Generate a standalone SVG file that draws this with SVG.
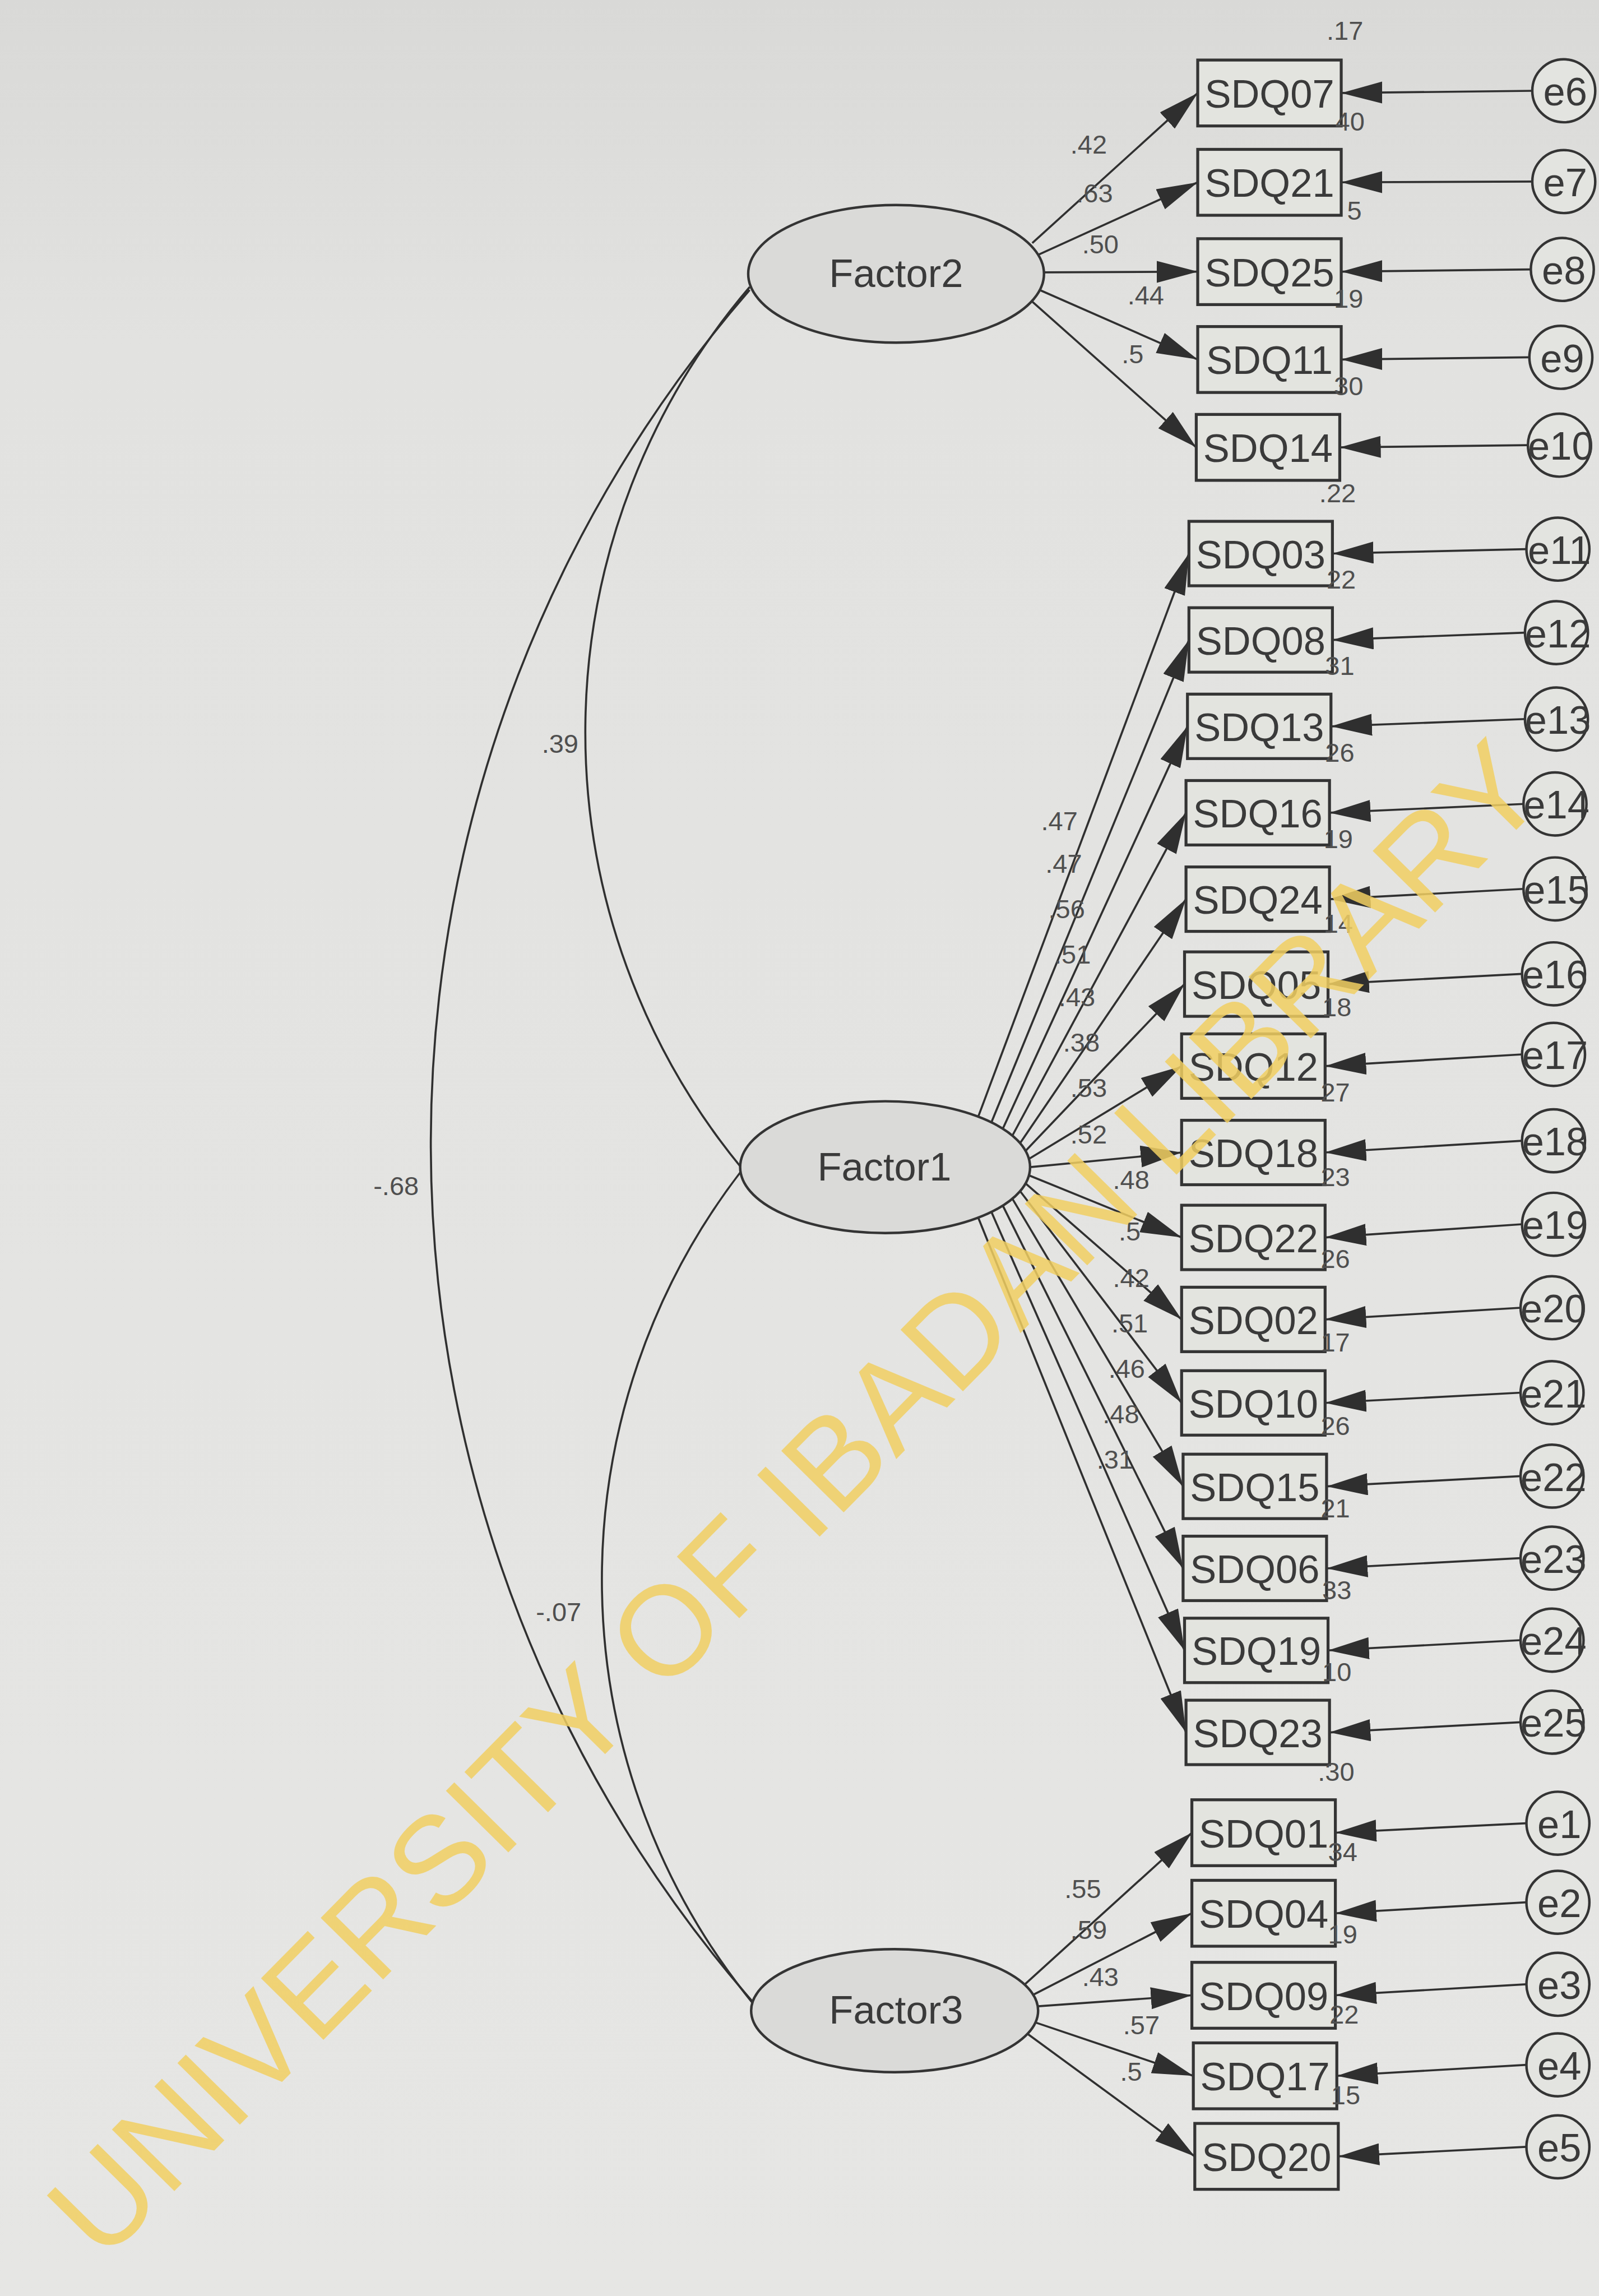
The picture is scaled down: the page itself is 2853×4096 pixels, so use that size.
<svg xmlns="http://www.w3.org/2000/svg" width="2853" height="4096" viewBox="0 0 2853 4096">
<defs>
<linearGradient id="bg" x1="0" y1="0" x2="0" y2="1">
<stop offset="0" stop-color="#d9d9d7"/>
<stop offset="0.15" stop-color="#e2e2e0"/>
<stop offset="1" stop-color="#e6e6e4"/>
</linearGradient>
<marker id="ah" viewBox="0 0 28 15" markerWidth="28" markerHeight="15" refX="28" refY="7.5" orient="auto" markerUnits="userSpaceOnUse">
<path d="M0,0 L28,7.5 L0,15 Z" fill="#2f2f2f"/>
</marker>
<style>
.bx{fill:#e3e4df;stroke:#343434;stroke-width:2}
.el{fill:#dadad8;stroke:#343434;stroke-width:1.7}
.ec{fill:#e3e4e0;stroke:#343434;stroke-width:1.7}
.ln{fill:none;stroke:#303030;stroke-width:1.4}
.ar{fill:none;stroke:#303030;stroke-width:1.4;marker-end:url(#ah)}
.big{font-family:"Liberation Sans",Arial,sans-serif;font-size:27px;fill:#3a3a3a}
.mid{text-anchor:middle}
.sm{font-family:"Liberation Sans",Arial,sans-serif;font-size:18px;fill:#4f4f4f}
.wm{font-family:"Liberation Sans",Arial,sans-serif;font-size:87px;fill:#f1cf62;fill-opacity:0.85}
</style>
</defs>
<rect x="0" y="0" width="2853" height="4096" fill="url(#bg)"/>
<g transform="scale(2.6125)">
<g id="connectors">
<path class="ln" d="M512,198 A890,890 0 0 0 515,1368"/>
<path class="ln" d="M512,196 A468,468 0 0 0 506,797"/>
<path class="ln" d="M506,800 A457,457 0 0 0 515,1369"/>
<line class="ar" x1="705" y1="166" x2="818" y2="63.5"/>
<line class="ar" x1="709" y1="174" x2="818" y2="124.5"/>
<line class="ar" x1="713" y1="186" x2="818" y2="185.5"/>
<line class="ar" x1="710" y1="198" x2="818" y2="245.5"/>
<line class="ar" x1="705" y1="206" x2="817" y2="305.5"/>
<line class="ar" x1="668.1" y1="762.5" x2="812" y2="378"/>
<line class="ar" x1="677.1" y1="766.4" x2="812" y2="437"/>
<line class="ar" x1="684.9" y1="770.7" x2="811" y2="496"/>
<line class="ar" x1="691.4" y1="775.5" x2="810" y2="555"/>
<line class="ar" x1="696.7" y1="780.6" x2="810" y2="614"/>
<line class="ar" x1="700.4" y1="785.9" x2="809" y2="672"/>
<line class="ar" x1="702.7" y1="791.4" x2="807" y2="728"/>
<line class="ar" x1="703.5" y1="797" x2="807" y2="787"/>
<line class="ar" x1="702.7" y1="802.6" x2="807" y2="845"/>
<line class="ar" x1="700.4" y1="808.1" x2="807" y2="901"/>
<line class="ar" x1="696.7" y1="813.4" x2="807" y2="958"/>
<line class="ar" x1="691.4" y1="818.5" x2="808" y2="1015"/>
<line class="ar" x1="684.9" y1="823.3" x2="808" y2="1071"/>
<line class="ar" x1="677.1" y1="827.6" x2="809" y2="1127"/>
<line class="ar" x1="668.1" y1="831.5" x2="810" y2="1183"/>
<line class="ar" x1="700" y1="1355" x2="814" y2="1251.5"/>
<line class="ar" x1="706" y1="1362" x2="814" y2="1306.5"/>
<line class="ar" x1="709" y1="1370" x2="814" y2="1362.5"/>
<line class="ar" x1="707" y1="1381" x2="815" y2="1417.5"/>
<line class="ar" x1="702" y1="1389" x2="816" y2="1472.5"/>
<line class="ar" x1="1046.5" y1="62" x2="916" y2="63.5"/>
<line class="ar" x1="1046.5" y1="124" x2="916" y2="124.5"/>
<line class="ar" x1="1045.5" y1="184" x2="916" y2="185.5"/>
<line class="ar" x1="1044.5" y1="244" x2="916" y2="245.5"/>
<line class="ar" x1="1043.5" y1="304" x2="915" y2="305.5"/>
<line class="ar" x1="1042.5" y1="375" x2="910" y2="378"/>
<line class="ar" x1="1041.5" y1="432" x2="910" y2="437"/>
<line class="ar" x1="1041.5" y1="491" x2="909" y2="496"/>
<line class="ar" x1="1040.5" y1="549" x2="908" y2="555"/>
<line class="ar" x1="1040.5" y1="607" x2="908" y2="614"/>
<line class="ar" x1="1039.5" y1="665" x2="907" y2="672"/>
<line class="ar" x1="1039.5" y1="720" x2="905" y2="728"/>
<line class="ar" x1="1039.5" y1="779" x2="905" y2="787"/>
<line class="ar" x1="1039.5" y1="836" x2="905" y2="845"/>
<line class="ar" x1="1038.5" y1="893" x2="905" y2="901"/>
<line class="ar" x1="1038.5" y1="951" x2="905" y2="958"/>
<line class="ar" x1="1038.5" y1="1008" x2="906" y2="1015"/>
<line class="ar" x1="1038.5" y1="1064" x2="906" y2="1071"/>
<line class="ar" x1="1038.5" y1="1120" x2="907" y2="1127"/>
<line class="ar" x1="1038.5" y1="1176" x2="908" y2="1183"/>
<line class="ar" x1="1042.5" y1="1245" x2="912" y2="1251.5"/>
<line class="ar" x1="1042.5" y1="1299" x2="912" y2="1306.5"/>
<line class="ar" x1="1042.5" y1="1355" x2="912" y2="1362.5"/>
<line class="ar" x1="1042.5" y1="1410" x2="913" y2="1417.5"/>
<line class="ar" x1="1042.5" y1="1466" x2="914" y2="1472.5"/>
</g>
<g id="factor2"><ellipse class="el" cx="612" cy="187" rx="101" ry="47"/><text class="big mid" x="612" y="196">Factor2</text></g>
<g id="factor1"><ellipse class="el" cx="604.5" cy="797" rx="99" ry="45"/><text class="big mid" x="604" y="806">Factor1</text></g>
<g id="factor3"><ellipse class="el" cx="611" cy="1373" rx="98" ry="42"/><text class="big mid" x="612" y="1382">Factor3</text></g>
<g id="SDQ07"><rect class="bx" x="818" y="41" width="98" height="45"/><text class="big mid" x="867" y="73.5">SDQ07</text></g>
<g id="SDQ21"><rect class="bx" x="818" y="102" width="98" height="45"/><text class="big mid" x="867" y="134.5">SDQ21</text></g>
<g id="SDQ25"><rect class="bx" x="818" y="163" width="98" height="45"/><text class="big mid" x="867" y="195.5">SDQ25</text></g>
<g id="SDQ11"><rect class="bx" x="818" y="223" width="98" height="45"/><text class="big mid" x="867" y="255.5">SDQ11</text></g>
<g id="SDQ14"><rect class="bx" x="817" y="283" width="98" height="45"/><text class="big mid" x="866" y="315.5">SDQ14</text></g>
<g id="SDQ03"><rect class="bx" x="812" y="356" width="98" height="44"/><text class="big mid" x="861" y="388">SDQ03</text></g>
<g id="SDQ08"><rect class="bx" x="812" y="415" width="98" height="44"/><text class="big mid" x="861" y="447">SDQ08</text></g>
<g id="SDQ13"><rect class="bx" x="811" y="474" width="98" height="44"/><text class="big mid" x="860" y="506">SDQ13</text></g>
<g id="SDQ16"><rect class="bx" x="810" y="533" width="98" height="44"/><text class="big mid" x="859" y="565">SDQ16</text></g>
<g id="SDQ24"><rect class="bx" x="810" y="592" width="98" height="44"/><text class="big mid" x="859" y="624">SDQ24</text></g>
<g id="SDQ05"><rect class="bx" x="809" y="650" width="98" height="44"/><text class="big mid" x="858" y="682">SDQ05</text></g>
<g id="SDQ12"><rect class="bx" x="807" y="706" width="98" height="44"/><text class="big mid" x="856" y="738">SDQ12</text></g>
<g id="SDQ18"><rect class="bx" x="807" y="765" width="98" height="44"/><text class="big mid" x="856" y="797">SDQ18</text></g>
<g id="SDQ22"><rect class="bx" x="807" y="823" width="98" height="44"/><text class="big mid" x="856" y="855">SDQ22</text></g>
<g id="SDQ02"><rect class="bx" x="807" y="879" width="98" height="44"/><text class="big mid" x="856" y="911">SDQ02</text></g>
<g id="SDQ10"><rect class="bx" x="807" y="936" width="98" height="44"/><text class="big mid" x="856" y="968">SDQ10</text></g>
<g id="SDQ15"><rect class="bx" x="808" y="993" width="98" height="44"/><text class="big mid" x="857" y="1025">SDQ15</text></g>
<g id="SDQ06"><rect class="bx" x="808" y="1049" width="98" height="44"/><text class="big mid" x="857" y="1081">SDQ06</text></g>
<g id="SDQ19"><rect class="bx" x="809" y="1105" width="98" height="44"/><text class="big mid" x="858" y="1137">SDQ19</text></g>
<g id="SDQ23"><rect class="bx" x="810" y="1161" width="98" height="44"/><text class="big mid" x="859" y="1193">SDQ23</text></g>
<g id="SDQ01"><rect class="bx" x="814" y="1229" width="98" height="45"/><text class="big mid" x="863" y="1261.5">SDQ01</text></g>
<g id="SDQ04"><rect class="bx" x="814" y="1284" width="98" height="45"/><text class="big mid" x="863" y="1316.5">SDQ04</text></g>
<g id="SDQ09"><rect class="bx" x="814" y="1340" width="98" height="45"/><text class="big mid" x="863" y="1372.5">SDQ09</text></g>
<g id="SDQ17"><rect class="bx" x="815" y="1395" width="98" height="45"/><text class="big mid" x="864" y="1427.5">SDQ17</text></g>
<g id="SDQ20"><rect class="bx" x="816" y="1450" width="98" height="45"/><text class="big mid" x="865" y="1482.5">SDQ20</text></g>
<g id="e6"><circle class="ec" cx="1068" cy="62" r="21.5"/><text class="big mid" x="1069" y="72">e6</text></g>
<g id="e7"><circle class="ec" cx="1068" cy="124" r="21.5"/><text class="big mid" x="1069" y="134">e7</text></g>
<g id="e8"><circle class="ec" cx="1067" cy="184" r="21.5"/><text class="big mid" x="1068" y="194">e8</text></g>
<g id="e9"><circle class="ec" cx="1066" cy="244" r="21.5"/><text class="big mid" x="1067" y="254">e9</text></g>
<g id="e10"><circle class="ec" cx="1065" cy="304" r="21.5"/><text class="big mid" x="1066" y="314">e10</text></g>
<g id="e11"><circle class="ec" cx="1064" cy="375" r="21.5"/><text class="big mid" x="1065" y="385">e11</text></g>
<g id="e12"><circle class="ec" cx="1063" cy="432" r="21.5"/><text class="big mid" x="1064" y="442">e12</text></g>
<g id="e13"><circle class="ec" cx="1063" cy="491" r="21.5"/><text class="big mid" x="1064" y="501">e13</text></g>
<g id="e14"><circle class="ec" cx="1062" cy="549" r="21.5"/><text class="big mid" x="1063" y="559">e14</text></g>
<g id="e15"><circle class="ec" cx="1062" cy="607" r="21.5"/><text class="big mid" x="1063" y="617">e15</text></g>
<g id="e16"><circle class="ec" cx="1061" cy="665" r="21.5"/><text class="big mid" x="1062" y="675">e16</text></g>
<g id="e17"><circle class="ec" cx="1061" cy="720" r="21.5"/><text class="big mid" x="1062" y="730">e17</text></g>
<g id="e18"><circle class="ec" cx="1061" cy="779" r="21.5"/><text class="big mid" x="1062" y="789">e18</text></g>
<g id="e19"><circle class="ec" cx="1061" cy="836" r="21.5"/><text class="big mid" x="1062" y="846">e19</text></g>
<g id="e20"><circle class="ec" cx="1060" cy="893" r="21.5"/><text class="big mid" x="1061" y="903">e20</text></g>
<g id="e21"><circle class="ec" cx="1060" cy="951" r="21.5"/><text class="big mid" x="1061" y="961">e21</text></g>
<g id="e22"><circle class="ec" cx="1060" cy="1008" r="21.5"/><text class="big mid" x="1061" y="1018">e22</text></g>
<g id="e23"><circle class="ec" cx="1060" cy="1064" r="21.5"/><text class="big mid" x="1061" y="1074">e23</text></g>
<g id="e24"><circle class="ec" cx="1060" cy="1120" r="21.5"/><text class="big mid" x="1061" y="1130">e24</text></g>
<g id="e25"><circle class="ec" cx="1060" cy="1176" r="21.5"/><text class="big mid" x="1061" y="1186">e25</text></g>
<g id="e1"><circle class="ec" cx="1064" cy="1245" r="21.5"/><text class="big mid" x="1065" y="1255">e1</text></g>
<g id="e2"><circle class="ec" cx="1064" cy="1299" r="21.5"/><text class="big mid" x="1065" y="1309">e2</text></g>
<g id="e3"><circle class="ec" cx="1064" cy="1355" r="21.5"/><text class="big mid" x="1065" y="1365">e3</text></g>
<g id="e4"><circle class="ec" cx="1064" cy="1410" r="21.5"/><text class="big mid" x="1065" y="1420">e4</text></g>
<g id="e5"><circle class="ec" cx="1064" cy="1466" r="21.5"/><text class="big mid" x="1065" y="1476">e5</text></g>
<g id="labels">
<text class="sm" x="255" y="816">-.68</text>
<text class="sm" x="370" y="514">.39</text>
<text class="sm" x="366" y="1107">-.07</text>
<text class="sm" x="731" y="105">.42</text>
<text class="sm" x="735" y="138">.63</text>
<text class="sm" x="739" y="173">.50</text>
<text class="sm" x="770" y="208">.44</text>
<text class="sm" x="766" y="248">.5</text>
<text class="sm" x="711" y="567">.47</text>
<text class="sm" x="714" y="596">.47</text>
<text class="sm" x="716" y="627">.56</text>
<text class="sm" x="720" y="658">.51</text>
<text class="sm" x="723" y="687">.43</text>
<text class="sm" x="726" y="718">.38</text>
<text class="sm" x="731" y="749">.53</text>
<text class="sm" x="731" y="781">.52</text>
<text class="sm" x="760" y="812">.48</text>
<text class="sm" x="764" y="847">.5</text>
<text class="sm" x="760" y="879">.42</text>
<text class="sm" x="759" y="910">.51</text>
<text class="sm" x="757" y="941">.46</text>
<text class="sm" x="753" y="972">.48</text>
<text class="sm" x="749" y="1003">.31</text>
<text class="sm" x="727" y="1296">.55</text>
<text class="sm" x="731" y="1324">.59</text>
<text class="sm" x="739" y="1356">.43</text>
<text class="sm" x="767" y="1389">.57</text>
<text class="sm" x="765" y="1421">.5</text>
<text class="sm" x="906" y="27">.17</text>
<text class="sm" x="912" y="89">40</text>
<text class="sm" x="920" y="150">5</text>
<text class="sm" x="911" y="210">19</text>
<text class="sm" x="911" y="270">30</text>
<text class="sm" x="901" y="343">.22</text>
<text class="sm" x="906" y="402">22</text>
<text class="sm" x="905" y="461">31</text>
<text class="sm" x="905" y="520">26</text>
<text class="sm" x="904" y="579">19</text>
<text class="sm" x="904" y="637">14</text>
<text class="sm" x="903" y="694">18</text>
<text class="sm" x="902" y="752">27</text>
<text class="sm" x="902" y="810">23</text>
<text class="sm" x="902" y="866">26</text>
<text class="sm" x="902" y="923">17</text>
<text class="sm" x="902" y="980">26</text>
<text class="sm" x="902" y="1036">21</text>
<text class="sm" x="903" y="1092">33</text>
<text class="sm" x="903" y="1148">10</text>
<text class="sm" x="900" y="1216">.30</text>
<text class="sm" x="907" y="1271">34</text>
<text class="sm" x="907" y="1327">19</text>
<text class="sm" x="908" y="1382">22</text>
<text class="sm" x="909" y="1437">15</text>
</g>
<text class="wm" x="70" y="1546" transform="rotate(-45.4 70 1546)">UNIVERSITY OF IBADAN LIBRARY</text>
</g>
</svg>
